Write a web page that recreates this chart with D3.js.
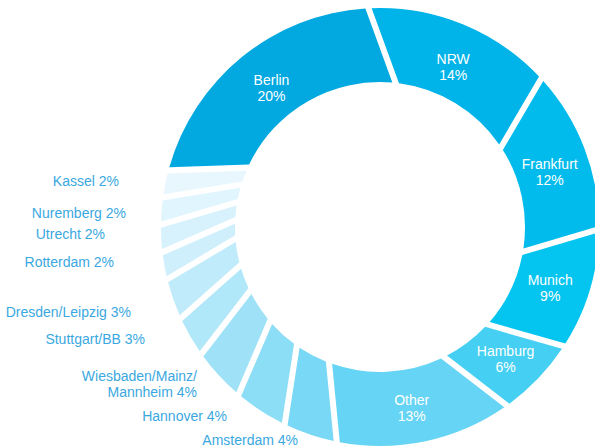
<!DOCTYPE html>
<html>
<head>
<meta charset="utf-8">
<script src="https://cdn.jsdelivr.net/npm/d3@7"></script>
<style>
  html, body { margin: 0; padding: 0; background: #ffffff; }
  svg { display: block; }
</style>
</head>
<body>
<svg id="chart" width="595" height="448"></svg>
<script>
// Share of office take-up by location, clockwise from the 9 o'clock position
const regions = ["Berlin", "NRW", "Frankfurt", "Munich", "Hamburg", "Other",
  "Amsterdam", "Hannover", "Wiesbaden/Mainz/Mannheim", "Stuttgart/BB",
  "Dresden/Leipzig", "Rotterdam", "Utrecht", "Nuremberg", "Kassel"];
const shares = [20, 14, 12, 9, 6, 13, 4, 4, 4, 3, 3, 2, 2, 2, 2];

// Fill ramp, deep cyan for the largest markets fading to pale blue
const fills = ["#02a8e0", "#00b3e8", "#00bbeb", "#04c5ef", "#45cff3", "#66d4f4",
  "#79d8f5", "#8cdef7", "#9fe2f8", "#b0e7f9", "#c0ebfa", "#ceeffb",
  "#d7f2fc", "#e0f5fd", "#e8f7fd"];

// Labels set inside the ring (the rest are listed to the left)
const insideNames = ["Berlin", "NRW", "Frankfurt", "Munich", "Hamburg", "Other"];

// Left-hand label anchors: right edge x and baseline y of the last line
const outsideAnchors = {
  "Amsterdam": [298, 445],
  "Hannover": [227, 421],
  "Wiesbaden/Mainz/Mannheim": [197, 397],
  "Stuttgart/BB": [145, 344],
  "Dresden/Leipzig": [131, 317],
  "Rotterdam": [114, 267],
  "Utrecht": [105, 239],
  "Nuremberg": [126, 218],
  "Kassel": [119, 186]
};

const width = 595, height = 448;
const cx = 380, cy = 227;
const outerR = 219, innerR = 145;
const skew = 64;      // every slice edge is offset sideways from the radius
const gap = 6;        // white separation between slices

const svg = d3.select("#chart");
const g = svg.append("g");

const data = regions.map((name, i) => ({ name, value: shares[i], fill: fills[i] }));

const startDeg = -92;
const pie = d3.pie()
  .sort(null)
  .value(d => d.value)
  .startAngle(startDeg * Math.PI / 180)
  .endAngle((startDeg + 360) * Math.PI / 180);

const arcs = pie(data);

// Unit vectors for a pie angle (clockwise from 12 o'clock)
const radial = a => [Math.sin(a), -Math.cos(a)];
const normal = a => [Math.cos(a), Math.sin(a)];

function edgePoint(a, off, rad) {
  const u = radial(a), n = normal(a);
  const t = Math.sqrt(rad * rad - off * off);
  return [cx + off * n[0] + t * u[0], cy + off * n[1] + t * u[1]];
}
const angleOf = p => Math.atan2(p[1] - cy, p[0] - cx);

function slicePath(d) {
  const d0 = skew + gap / 2, d1 = skew - gap / 2;
  const p0in = edgePoint(d.startAngle, d0, innerR);
  const p0out = edgePoint(d.startAngle, d0, outerR);
  const p1out = edgePoint(d.endAngle, d1, outerR);
  const p1in = edgePoint(d.endAngle, d1, innerR);
  const p = d3.path();
  p.moveTo(p0in[0], p0in[1]);
  p.lineTo(p0out[0], p0out[1]);
  p.arc(cx, cy, outerR, angleOf(p0out), angleOf(p1out), false);
  p.lineTo(p1in[0], p1in[1]);
  p.arc(cx, cy, innerR, angleOf(p1in), angleOf(p0in), true);
  p.closePath();
  return p.toString();
}

g.selectAll("path.slice")
  .data(arcs)
  .join("path")
  .attr("class", "slice")
  .attr("d", slicePath)
  .attr("fill", d => d.data.fill);

const font = "'Liberation Sans', Arial, Helvetica, sans-serif";

// Two-line labels inside the large slices
const labelR = 170, labelShift = 58;
const inside = arcs.filter(d => insideNames.includes(d.data.name));
const inText = g.selectAll("text.inside")
  .data(inside)
  .join("text")
  .attr("class", "inside")
  .attr("font-family", font)
  .attr("font-size", 14)
  .attr("fill", "#ffffff")
  .attr("text-anchor", "middle")
  .attr("transform", d => {
    const a = (d.startAngle + d.endAngle) / 2;
    const u = radial(a), n = normal(a);
    const x = cx + labelR * u[0] + labelShift * n[0];
    const y = cy + labelR * u[1] + labelShift * n[1];
    return `translate(${x},${y})`;
  });
inText.append("tspan").attr("x", 0).attr("y", 1).text(d => d.data.name);
inText.append("tspan").attr("x", 0).attr("y", 17).text(d => d.data.value + "%");

// Left-hand labels for the small slices
const outside = arcs.filter(d => !insideNames.includes(d.data.name));
const outText = g.selectAll("text.outside")
  .data(outside)
  .join("text")
  .attr("class", "outside")
  .attr("font-family", font)
  .attr("font-size", 14)
  .attr("fill", "#3aa8e0")
  .attr("text-anchor", "end");

outText.each(function (d) {
  const [x, y] = outsideAnchors[d.data.name];
  const full = d.data.name + " " + d.data.value + "%";
  const lines = d.data.name === "Wiesbaden/Mainz/Mannheim"
    ? ["Wiesbaden/Mainz/", "Mannheim " + d.data.value + "%"]
    : [full];
  const t = d3.select(this);
  lines.forEach((line, i) => {
    t.append("tspan")
      .attr("x", x)
      .attr("y", y - (lines.length - 1 - i) * 16)
      .text(line);
  });
});
</script>
</body>
</html>
